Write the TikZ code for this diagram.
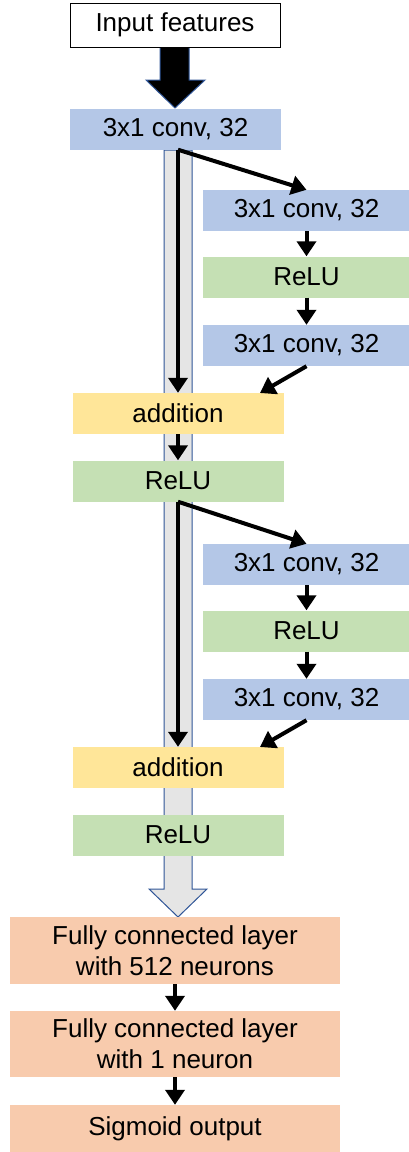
\documentclass[tikz,border=0pt]{standalone}
\usepackage{fontspec}
\setmainfont{Liberation Sans}
\usetikzlibrary{arrows.meta}
\definecolor{convblue}{HTML}{B4C7E7}
\definecolor{relugreen}{HTML}{C5E0B4}
\definecolor{addyellow}{HTML}{FFE699}
\definecolor{fcorange}{HTML}{F8CBAD}
\definecolor{edgeblue}{HTML}{2F5597}
\begin{document}
\begin{tikzpicture}[x=1pt, y=-1pt,
	box/.style={minimum width=211pt, minimum height=41pt, inner sep=0pt, align=center, font=\fontsize{26}{31}\selectfont},
	convbox/.style={box, fill=convblue},
	relubox/.style={box, fill=relugreen},
	addbox/.style={box, fill=addyellow},
	fcbox/.style={box, fill=fcorange, minimum width=330pt},
	arr/.style={-{Triangle[width=19pt,length=15pt]}, line width=4pt}]
	\useasboundingbox (0,0) rectangle (408,1152);
	% wide arrows behind the boxes
	\draw[draw=edgeblue, fill=gray!20, line width=1pt] (164,150) -- (192,150) -- (192,889) -- (207,889) -- (178,917) -- (149,889) -- (164,889) -- cycle;
	\draw[draw=edgeblue, fill=black, line width=1pt] (160,47) -- (189,47) -- (189,80) -- (205,80) -- (175,108) -- (146,80) -- (160,80) -- cycle;
	\node[box, draw, fill=white, line width=1pt, minimum width=210pt, minimum height=44pt] (input) at (175,25) {Input features};
	\node[convbox] (conv1) at (175.5,129) {3x1 conv, 32};
	% two residual blocks
	\foreach \i/\dy/\src in {1/0/conv1, 2/354/mrelu1}{
		\node[convbox, minimum width=207pt] (bconvA\i) at (306.5,210.5+\dy) {3x1 conv, 32};
		\node[relubox, minimum width=207pt] (brelu\i) at (306.5,277+\dy) {ReLU};
		\node[convbox, minimum width=207pt] (bconvB\i) at (306.5,345.5+\dy) {3x1 conv, 32};
		\node[addbox] (add\i) at (178,413.5+\dy) {addition};
		\node[relubox] (mrelu\i) at (178,481+\dy) {ReLU};
		\coordinate (join\i) at (260,393+\dy);
		\draw[arr] (\src.south -| add\i.north) -- (add\i.north);
		\draw[arr] (\src.south -| add\i.north) -- (bconvA\i.north);
		\draw[arr] (bconvA\i) -- (brelu\i);
		\draw[arr] (brelu\i) -- (bconvB\i);
		\draw[arr] (bconvB\i.south) -- (join\i);
	}
	\draw[arr] (add1) -- (mrelu1);
	\node[fcbox, minimum height=67pt] (fc1) at (175,950.5) {Fully connected layer\\with 512 neurons};
	\node[fcbox, minimum height=66pt] (fc2) at (175,1044) {Fully connected layer\\with 1 neuron};
	\node[fcbox, minimum height=47pt] (sigout) at (175,1128.5) {Sigmoid output};
	\draw[arr] (fc1) -- (fc2);
	\draw[arr] (fc2) -- (sigout);
\end{tikzpicture}
\end{document}
